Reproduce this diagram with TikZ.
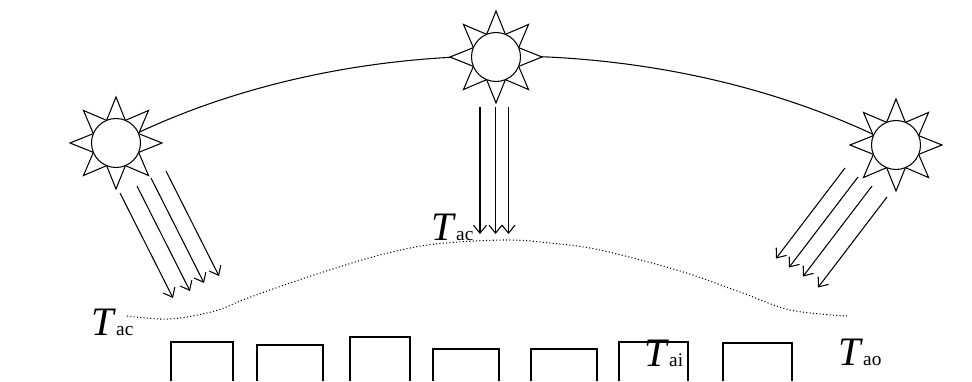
\documentclass[tikz,border=0pt]{standalone}
\usepackage{fontspec}
\setmainfont{Liberation Serif}
\usetikzlibrary{arrows.meta, backgrounds}
\tikzset{
	sunray/.style ={draw=black, fill=white, line width=0.6pt, line join=miter},
	sun/.style    ={circle, draw=black, fill=white, line width=0.6pt, minimum size=0.98cm, inner sep=0pt},
	orbit/.style  ={line width=0.6pt},
	beam/.style   ={-{Straight Barb[length=1.6mm, width=2.6mm]}, line width=0.6pt},
	% air layer and buildings
	airline/.style={line width=0.6pt, dash pattern=on 0.6pt off 1.3pt},
	house/.style  ={line width=0.6pt},
	temp/.style   ={inner sep=0pt, anchor=base west, font=\fontsize{23}{26}\selectfont},
}
\newcommand{\tvar}[1]{\textit{T}{\fontsize{11}{13}\selectfont #1}}

\begin{document}
\begin{tikzpicture}
	\useasboundingbox (0,0) rectangle (19.44,7.62);
	% suns along the day path
	\foreach \nm/\x/\y in {lsun/2.32/4.76, msun/9.92/6.48, rsun/17.92/4.72}{
		\draw[sunray, shift={(\x,\y)}] (0:0.92)
			\foreach \a in {0,45,...,315}{ -- (\a+22.5:0.49) -- (\a+45:0.92)} -- cycle;
		\node[sun] (\nm) at (\x,\y) {};
	}
	\begin{scope}[on background layer]
		\draw[orbit] (lsun) to[out=25, in=155, looseness=0.85] (rsun);
	\end{scope}
	% radiation
	\foreach \x/\y in {2.40/3.76, 2.74/3.90, 3.02/4.06, 3.32/4.20}
		\draw[beam] (\x,\y) -- ++(1.06,-2.10);
	\foreach \x in {9.60, 9.91, 10.17}
		\draw[beam] (\x,5.48) -- ++(0,-2.54);
	\foreach \x/\y in {16.90/4.26, 17.16/4.08, 17.44/3.90, 17.74/3.68}
		\draw[beam] (\x,\y) -- ++(-1.38,-1.81);
	% top of the canopy air
	\draw[airline] plot[smooth, tension=0.55] coordinates {(2.54,1.30) (3.40,1.24) (4.30,1.40) (4.80,1.60) (5.40,1.82) (6.40,2.16) (7.60,2.52) (8.70,2.74) (10.10,2.82) (11.00,2.76) (12.00,2.62) (13.60,2.20) (14.80,1.78) (15.80,1.42) (16.94,1.30)};
	% buildings
	\foreach \l/\r/\t in {3.42/4.66/0.78, 5.14/6.46/0.72, 7.00/8.20/0.88, 8.66/9.98/0.64, 10.62/11.94/0.64, 12.38/13.76/0.78, 14.46/15.84/0.76}
		\draw[house] (\l,0) |- (\r,\t) -- (\r,0);
	\node[temp] (tacl) at (1.82,0.92) {\tvar{ac}};
	\node[temp] (tacm) at (8.62,2.82) {\tvar{ac}};
	\node[temp] (tai) at (12.88,0.30) {\tvar{ai}};
	\node[temp] (tao) at (16.76,0.32) {\tvar{ao}};
\end{tikzpicture}
\end{document}
